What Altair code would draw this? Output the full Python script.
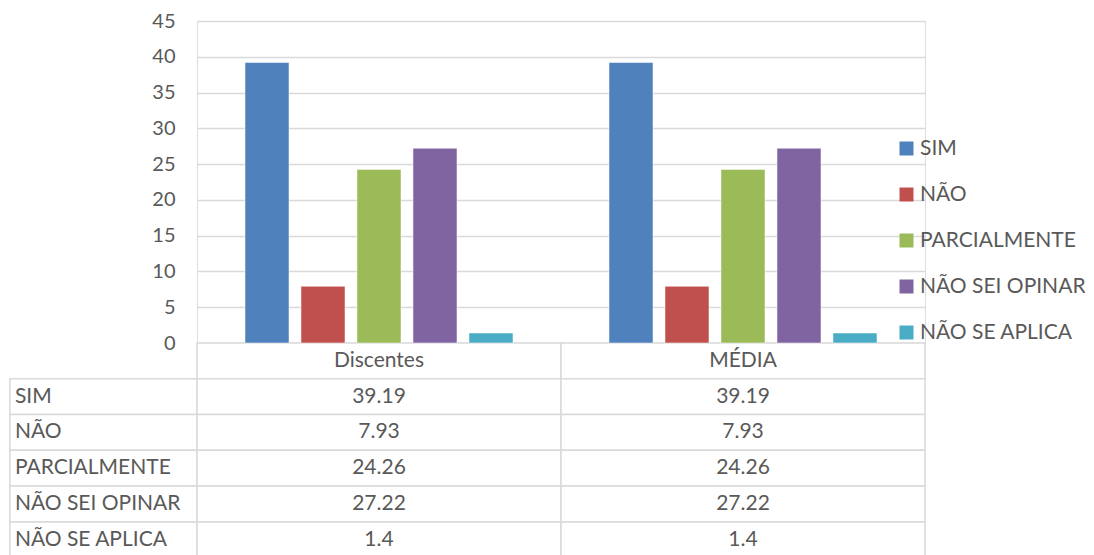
import altair as alt
import pandas as pd

categories = ["Discentes", "MÉDIA"]
series = ["SIM", "NÃO", "PARCIALMENTE", "NÃO SEI OPINAR", "NÃO SE APLICA"]
discentes_vals = [39.19, 7.93, 24.26, 27.22, 1.4]
media_vals = [39.19, 7.93, 24.26, 27.22, 1.4]
colors = ["#4F81BD", "#C0504D", "#9BBB59", "#8064A2", "#4BACC6"]
y_ticks = [0, 5, 10, 15, 20, 25, 30, 35, 40, 45]

values_by_cat = {"Discentes": discentes_vals, "MÉDIA": media_vals}

FONT = "Lato"
FS = 21
TXT = "#595959"
GRID = "#d9d9d9"
ROW = 5          # table row height in y units
LABEL_X = -0.514  # left edge of the label column in x units

bars_df = pd.DataFrame(
    [{"category": c, "series": s, "value": v}
     for c in categories for s, v in zip(series, values_by_cat[c])]
)

cells, texts = [], []
for ci, c in enumerate(categories):
    cells.append({"x0": ci, "x1": ci + 1, "y0": 0, "y1": -ROW})
    texts.append({"x": ci + 0.5, "y": -ROW / 2, "text": c, "kind": "center"})
for r, s in enumerate(series):
    y0, y1 = -(r + 1) * ROW, -(r + 2) * ROW
    cells.append({"x0": LABEL_X, "x1": 0, "y0": y0, "y1": y1})
    texts.append({"x": LABEL_X, "y": (y0 + y1) / 2, "text": s, "kind": "left"})
    for ci, c in enumerate(categories):
        cells.append({"x0": ci, "x1": ci + 1, "y0": y0, "y1": y1})
        texts.append({"x": ci + 0.5, "y": (y0 + y1) / 2,
                      "text": f"{values_by_cat[c][r]:g}", "kind": "center"})
cells_df = pd.DataFrame(cells)
texts_df = pd.DataFrame(texts)

yaxis = alt.Axis(values=y_ticks, domain=False, ticks=False, labelPadding=22,
                 labelFontSize=20, labelColor=TXT, labelFont=FONT,
                 gridColor=GRID, gridWidth=1.5)
yscale = alt.Scale(domain=[0, 45])
xq = alt.Scale(domain=[0, 2])

bars = alt.Chart(bars_df).mark_bar(stroke="#ffffff", strokeOpacity=0.5, strokeWidth=1).encode(
    x=alt.X("category:N", sort=categories, axis=None,
            scale=alt.Scale(paddingInner=0, paddingOuter=0)),
    xOffset=alt.XOffset("series:N", sort=series,
                        scale=alt.Scale(paddingInner=0.214, paddingOuter=0.857)),
    y=alt.Y("value:Q", scale=yscale, axis=yaxis, title=None),
    color=alt.Color("series:N", sort=series,
                    scale=alt.Scale(domain=series, range=colors),
                    legend=alt.Legend(title=None, orient="none", legendX=699, legendY=117,
                                      symbolType="square", symbolSize=196,
                                      symbolStrokeWidth=0, labelFontSize=FS,
                                      labelColor=TXT, labelFont=FONT, rowPadding=24,
                                      labelOffset=3, labelLimit=400, padding=0)),
)

table = alt.Chart(cells_df).mark_rect(fill="white", stroke=GRID, strokeWidth=1.5).encode(
    x=alt.X("x0:Q", scale=xq, axis=None),
    x2="x1:Q",
    y=alt.Y("y0:Q", scale=yscale, axis=yaxis, title=None),
    y2="y1:Q",
)

center_text = alt.Chart(texts_df).transform_filter(
    alt.datum.kind == "center"
).mark_text(font=FONT, fontSize=FS, color=TXT, align="center", baseline="middle").encode(
    x=alt.X("x:Q", scale=xq, axis=None),
    y=alt.Y("y:Q", scale=yscale, axis=yaxis, title=None),
    text="text:N",
)

left_text = alt.Chart(texts_df).transform_filter(
    alt.datum.kind == "left"
).mark_text(font=FONT, fontSize=FS, color=TXT, align="left", baseline="middle", dx=5).encode(
    x=alt.X("x:Q", scale=xq, axis=None),
    y=alt.Y("y:Q", scale=yscale, axis=yaxis, title=None),
    text="text:N",
)

chart = alt.layer(table, bars, center_text, left_text).resolve_scale(
    x="independent"
).properties(
    width=728, height=322,
    padding={"left": 189, "top": 13, "right": 160, "bottom": 220},
    autosize=alt.AutoSizeParams(type="none"),
).configure_view(stroke=None).configure(font=FONT)

chart.save("out.html", embed_options={"renderer": "svg", "actions": False})
